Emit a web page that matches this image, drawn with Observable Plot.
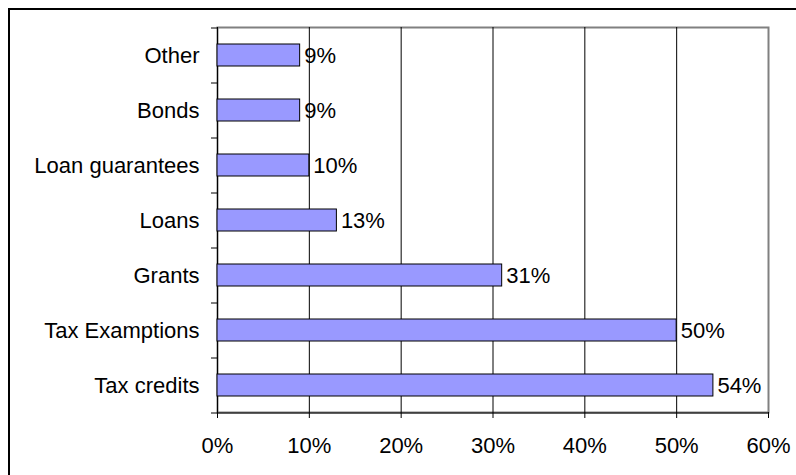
<!DOCTYPE html>
<html><head><meta charset="utf-8">
<script src="https://cdn.jsdelivr.net/npm/d3@7"></script>
<script src="https://cdn.jsdelivr.net/npm/@observablehq/plot@0.6"></script>
<style>
body{margin:0;background:#fff;font-family:"Liberation Sans",Arial,sans-serif;overflow:hidden}
#frame{position:absolute;left:8px;top:8px;width:800px;height:480px;border:2px solid #000;pointer-events:none}
#chart{position:absolute;left:0;top:0}
</style></head>
<body><div id="chart"></div><div id="frame"></div>
<script>
const categories = ["Other","Bonds","Loan guarantees","Loans","Grants","Tax Examptions","Tax credits"];
const values = [0.09,0.09,0.10,0.13,0.31,0.50,0.54];
const xTicks = [0,0.1,0.2,0.3,0.4,0.5,0.6];
const data = categories.map((c,i)=>({category:c, value: values[i]}));
const fmt = d3.format(".0%");
const tickLen = 6/916.7; // 6px expressed in x units (1.0 = 916.7px)
const chart = Plot.plot({
  width:796, height:475, marginLeft:217, marginRight:28, marginTop:27, marginBottom:63,
  style:{fontFamily:'"Liberation Sans", Arial, sans-serif', fontSize:"22px", color:"#000", background:"#fff", overflow:"visible"},
  x:{domain:[0,0.6], label:null},
  y:{domain:categories, paddingInner:0.6, paddingOuter:0.3, label:null},
  marks:[
    Plot.frame({stroke:"#808080", strokeWidth:2}),
    Plot.ruleX(xTicks.slice(0,6), {stroke:"#000", strokeWidth:1}),
    Plot.barX(data, {y:"category", x:"value", fill:"#9999FF", stroke:"#000", strokeWidth:1}),
    Plot.ruleY(categories, {y:d=>d, x1:-tickLen, x2:0, dy:-27.5, stroke:"#000"}),
    Plot.ruleY([categories[categories.length-1]], {y:d=>d, x1:-tickLen, x2:0.6, dy:27.5, stroke:"#000"}),
    Plot.text(data, {y:"category", x:"value", text:d=>fmt(d.value), textAnchor:"start", dx:4, fontSize:22, fill:"#000"}),
    Plot.axisX({ticks:xTicks, tickFormat:fmt, tickSize:6, tickPadding:19, fontSize:22, stroke:"#000", strokeOpacity:1, label:null}),
    Plot.axisY({tickSize:0, tickPadding:18, fontSize:22, label:null})
  ]
});
document.getElementById("chart").append(chart);
</script>
</body></html>
